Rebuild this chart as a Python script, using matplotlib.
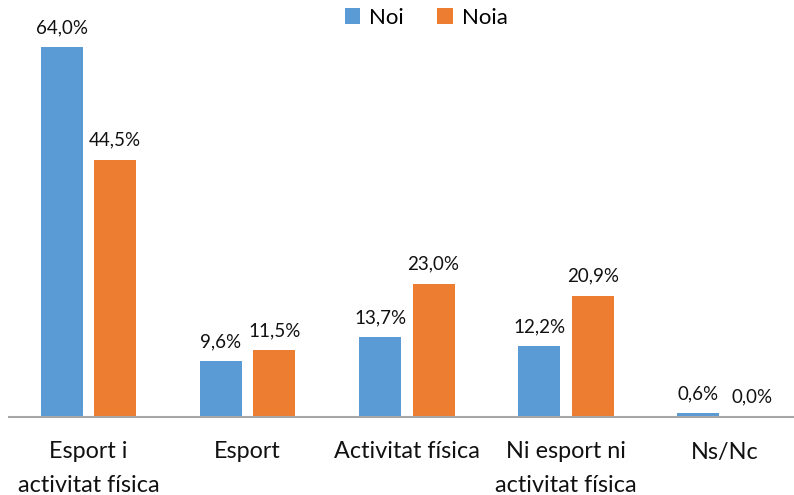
import matplotlib.pyplot as plt
import numpy as np

categories = ['Esport i\nactivitat física', 'Esport', 'Activitat física',
              'Ni esport ni\nactivitat física', 'Ns/Nc']
noi = [64.0, 9.6, 13.7, 12.2, 0.6]
noia = [44.5, 11.5, 23.0, 20.9, 0.0]

blue = '#5B9BD5'
orange = '#ED7D31'
plt.rcParams['font.family'] = ['Lato', 'DejaVu Sans']

fig = plt.figure(figsize=(7.94, 4.95), dpi=100)
# axes in pixels: left 9, right 794, bottom at y=416.5, top at y=30
ax = fig.add_axes([9 / 794, 78.5 / 495, 785 / 794, 386.5 / 495])

x = np.arange(len(categories))
w = 0.264
off = 0.168
b1 = ax.bar(x - off, noi, w, color=blue, label='Noi')
b2 = ax.bar(x + off, noia, w, color=orange, label='Noia')

for bars, vals in ((b1, noi), (b2, noia)):
    for b, v in zip(bars, vals):
        ax.annotate(f'{v:.1f}%'.replace('.', ','),
                    (b.get_x() + b.get_width() / 2, v),
                    xytext=(0, 8), textcoords='offset points',
                    ha='center', va='bottom', fontsize=13.5, color='#111111')

ax.set_xlim(-0.5, 4.433)
ax.set_ylim(0, 66.95)
ax.set_yticks([])
ax.set_xticks(x)
ax.set_xticklabels(categories, fontsize=16.8, color='#111111', linespacing=1.75)
ax.tick_params(axis='x', length=0, pad=18)
for s in ['top', 'right', 'left']:
    ax.spines[s].set_visible(False)
ax.spines['bottom'].set_color('#A6A6A6')
ax.spines['bottom'].set_linewidth(1.5)

fig.legend(loc='center', bbox_to_anchor=(426 / 794, 1 - 18 / 495), ncol=2,
           frameon=False, fontsize=16, handlelength=0.7, handleheight=0.7,
           handletextpad=0.4, columnspacing=1.5)

fig.savefig('out.png', dpi=100)
